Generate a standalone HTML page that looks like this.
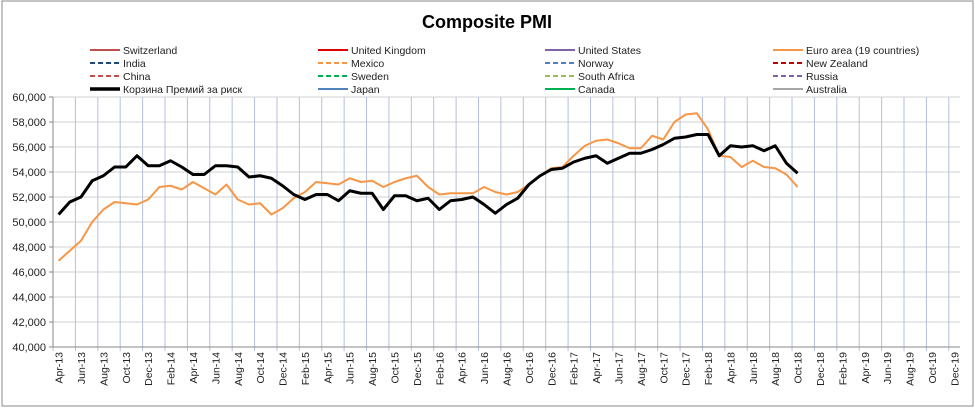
<!DOCTYPE html>
<html><head><meta charset="utf-8"><style>
body{margin:0;background:#fff;font-family:"Liberation Sans",sans-serif;}
svg{display:block}
</style></head><body>
<svg id="chart" width="975" height="408">
<rect x="2" y="1" width="971" height="405" fill="#fff" stroke="#8a8a8a"/>
<text x="487" y="28" text-anchor="middle" font-size="18" font-weight="bold">Composite PMI</text>
<g id="legend"></g>
<g id="grid"></g>
<g id="yaxis"></g>
<g id="xaxis"></g>
<g id="series"></g>
</svg>
<script>
const months=['Jan','Feb','Mar','Apr','May','Jun','Jul','Aug','Sep','Oct','Nov','Dec'];
const basket=[50600,51600,52000,53300,53700,54400,54400,55300,54500,
54500,54900,54400,53800,53800,54500,54500,54400,53600,53700,53500,52900,
52200,51800,52200,52200,51700,52500,52300,52300,51000,52100,52100,51700,
51900,51000,51700,51800,52000,51400,50700,51400,51900,53000,53700,54200,
54300,54800,55100,55300,54700,55100,55500,55500,55800,56200,56700,56800,
57000,57000,55300,56100,56000,56100,55700,56100,54700,53900];
const euro=[46900,47700,48500,50000,51000,51600,51500,51400,51800,
52800,52900,52600,53200,52700,52200,53000,51800,51400,51500,50600,51100,
51900,52400,53200,53100,53000,53500,53200,53300,52800,53200,53500,53700,
52800,52200,52300,52300,52300,52800,52400,52200,52400,53000,53700,54300,
54400,55300,56100,56500,56600,56300,55900,55900,56900,56600,58000,58600,
58700,57400,55300,55200,54400,54900,54400,54300,53800,52800];
const yTicks=[40000,42000,44000,46000,48000,50000,52000,54000,56000,58000,60000];
const legendNames=['Switzerland','United Kingdom','United States','Euro area (19 countries)','India','Mexico','Norway','New Zealand','China','Sweden','South Africa','Russia','Корзина Премий за риск','Japan','Canada','Australia'];
const legendColors=['#c0504d','#e00000','#8064a2','#f79646','#1f497d','#f79646','#4f81bd','#c00000','#c0504d','#00b050','#9bbb59','#8064a2','#000','#4f81bd','#00b050','#a5a5a5'];
const legendDash=[0,0,0,0,1,1,1,1,1,1,1,1,0,0,0,0];
const NS='http://www.w3.org/2000/svg';
const L=53,R=960,T=97,B=347,N=81,step=(R-L)/N;
const xS=i=>L+step*(i+0.5);
const yS=v=>B-(v-40000)/20000*(B-T);
function mk(t,a,p){const e=document.createElementNS(NS,t);for(const k in a)e.setAttribute(k,a[k]);p.appendChild(e);return e;}
const grid=document.getElementById('grid'),ya=document.getElementById('yaxis'),xa=document.getElementById('xaxis');
yTicks.forEach(v=>{
 const g=mk('line',{x1:L,x2:R,y1:yS(v),y2:yS(v),stroke:'#d0d0d0'},grid);
 
 
 const t=mk('text',{x:L-7,y:yS(v)+4,'text-anchor':'end','font-size':'11',fill:'#222'},ya);
 t.textContent=v.toLocaleString('en-US');
 
 
 mk('line',{x1:L-4,x2:L,y1:yS(v),y2:yS(v),stroke:'#888'},ya);
});
for(let i=0;i<=N;i+=2){
 const x=L+step*i;
 const g=mk('line',{x1:x,x2:x,y1:T,y2:B+4,stroke:'#b4c0dc'},grid);
 
 
}
mk('line',{x1:L,x2:L,y1:T,y2:B,stroke:'#888'},ya);
mk('line',{x1:L,x2:R,y1:B,y2:B,stroke:'#888'},xa);
for(let i=0;i<N;i+=2){
 const m=(3+i)%12,yr=13+Math.floor((3+i)/12);
 const x=xS(i)+4;
 const t=mk('text',{x:x,y:352,'text-anchor':'end','font-size':'10.5',fill:'#222',transform:`rotate(-90 ${x} 352)`},xa);
 t.textContent=months[m]+'-'+yr;
 
 
}
const ser=document.getElementById('series');
function line(arr,color,w,name){
 const p=mk('polyline',{points:arr.map((v,i)=>xS(i)+','+yS(v)).join(' '),fill:'none',stroke:color,'stroke-width':w,'stroke-linejoin':'round'},ser);
 
 
}
line(euro,'#f79646',2,'euro-area-line');
line(basket,'#000',3,'risk-premium-basket-line');
const leg=document.getElementById('legend');
const colX=[90,318,545,773];
legendNames.forEach((n,i)=>{
 const c=i%4,r=Math.floor(i/4),x=colX[c],y=50+r*13;
 mk('line',{x1:x,x2:x+30,y1:y,y2:y,stroke:legendColors[i],'stroke-width':i==12?3.5:2,'stroke-dasharray':legendDash[i]?'5,3':'none'},leg);
 const t=mk('text',{x:x+33,y:y+4,'font-size':'10.5',fill:'#222'},leg);
 t.textContent=n;
 
 
});
</script>
</body></html>
